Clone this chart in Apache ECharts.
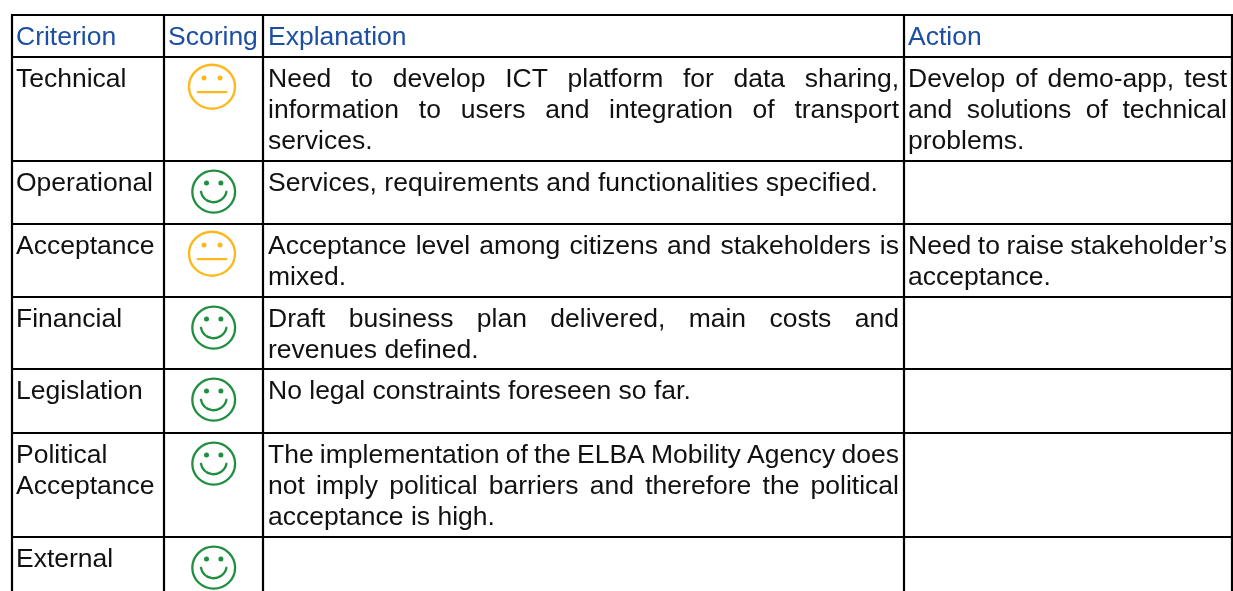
<!DOCTYPE html>
<html lang="en">
<head>
    <meta charset="UTF-8">
    <script src="https://cdn.jsdelivr.net/npm/echarts@6/dist/echarts.min.js"></script>
    <title>Criteria table</title>
    <style>html,body{margin:0;padding:0;background:#fff}#main{width:1233px;height:591px}</style>
</head>
<body>
    <div id="main"></div>
    <script>
// table content
var headers = ['Criterion', 'Scoring', 'Explanation', 'Action'];
var criteria = [['Technical'], ['Operational'], ['Acceptance'], ['Financial'], ['Legislation'], ['Political', 'Acceptance'], ['External']];
var scores = ['neutral', 'happy', 'neutral', 'happy', 'happy', 'happy', 'happy'];
var explanations = [
  ['Need to develop ICT platform for data sharing,', 'information to users and integration of transport', 'services.'],
  ['Services, requirements and functionalities specified.'],
  ['Acceptance level among citizens and stakeholders is', 'mixed.'],
  ['Draft business plan delivered, main costs and', 'revenues defined.'],
  ['No legal constraints foreseen so far.'],
  ['The implementation of the ELBA Mobility Agency does', 'not imply political barriers and therefore the political', 'acceptance is high.'],
  []
];
var actions = [
  ['Develop of demo-app, test', 'and solutions of technical', 'problems.'],
  [],
  ['Need to raise stakeholder\u2019s', 'acceptance.'],
  [], [], [], []
];

// layout of the table, in page pixels
var colEdges = [12, 164, 263, 904, 1232];
var rowEdges = [15, 57, 161, 224, 297, 369, 433, 537];
var tableBottom = 591;
var textLeft = [16, 168, 268, 908];
var textRight = [160, 260, 899, 1227];
var firstBaseline = 30, lineStep = 30.7;
var fontSize = 26.5;
var font = fontSize + 'px "Liberation Sans", Arial, sans-serif';
var baselineShift = 7.2; // vertical middle of the text sits this far above the baseline

var ctx = document.createElement('canvas').getContext('2d');
ctx.font = font;
function width(s) { return ctx.measureText(s).width; }

// one entry per line of text; a wrapped line that is not the last of its cell is justified
var runs = [];
function addCell(lines, col, top, color) {
  lines.forEach(function (line, i) {
    runs.push({
      text: line, color: color, x: textLeft[col], y: top + firstBaseline + i * lineStep,
      justify: col >= 2 && i < lines.length - 1 ? textRight[col] : null
    });
  });
}
headers.forEach(function (h, c) { addCell([h], c, rowEdges[0] - 0.5, '#1c4ea3'); });
criteria.forEach(function (lines, r) {
  addCell(lines, 0, rowEdges[r + 1], '#111');
  addCell(explanations[r], 2, rowEdges[r + 1], '#111');
  addCell(actions[r], 3, rowEdges[r + 1], '#111');
});

var lines = [];
colEdges.forEach(function (x) { lines.push([x, rowEdges[0], x, tableBottom]); });
rowEdges.forEach(function (y) { lines.push([colEdges[0] - 1, y, colEdges[4] + 1, y]); });

var faces = scores.map(function (s, r) {
  return s === 'neutral' ? [212, rowEdges[r + 1] + 29.7] : [213.7, rowEdges[r + 1] + 30.7];
});

function renderLine(params, api) {
  var a = api.coord([api.value(0), api.value(1)]);
  var b = api.coord([api.value(2), api.value(3)]);
  return { type: 'line', shape: { x1: a[0], y1: a[1], x2: b[0], y2: b[1] }, style: { stroke: '#000', lineWidth: 2.2 } };
}

function renderText(params, api) {
  var run = runs[params.dataIndex];
  var p = api.coord([api.value(0), api.value(1)]);
  var style = { fill: run.color, font: font, verticalAlign: 'middle', align: 'left' };
  var words = run.justify ? run.text.split(' ') : [run.text];
  var gap = 0;
  if (run.justify) {
    var used = words.reduce(function (t, w) { return t + width(w); }, 0);
    gap = (run.justify - run.x - used) / (words.length - 1);
  }
  var x = p[0];
  var children = words.map(function (w) {
    var el = { type: 'text', x: x, y: p[1] - baselineShift, style: Object.assign({ text: w }, style) };
    x += width(w) + gap;
    return el;
  });
  return { type: 'group', children: children };
}

function renderFace(params, api) {
  var c = api.coord([api.value(0), api.value(1)]);
  var neutral = scores[params.dataIndex] === 'neutral';
  var color = neutral ? '#ffb81c' : '#1f8f3f';
  var line = { stroke: color, fill: null, lineWidth: neutral ? 2.4 : 2.3, lineCap: 'round' };
  var dot = { fill: color };
  var kids = [
    { type: 'ellipse', shape: { cx: c[0], cy: c[1], rx: neutral ? 23 : 21.4, ry: neutral ? 22 : 21 }, style: line },
    { type: 'circle', shape: { cx: c[0] - (neutral ? 8 : 7.2), cy: c[1] - 8.6, r: 2.5 }, style: dot },
    { type: 'circle', shape: { cx: c[0] + (neutral ? 8 : 7.2), cy: c[1] - 8.6, r: 2.5 }, style: dot }
  ];
  if (neutral) {
    kids.push({ type: 'line', shape: { x1: c[0] - 14.2, y1: c[1] + 5.4, x2: c[0] + 14.2, y2: c[1] + 5.4 }, style: line });
  } else {
    kids.push({ type: 'arc', shape: { cx: c[0], cy: c[1] - 2.5, r: 13, startAngle: 0.2, endAngle: Math.PI - 0.2, clockwise: true }, style: line });
  }
  return { type: 'group', children: kids };
}

var myCharts = echarts.init(document.getElementById('main'), null, { renderer: 'canvas' });
var option = {
  animation: false,
  backgroundColor: '#fff',
  grid: { left: 0, right: 0, top: 0, bottom: 0 },
  xAxis: { type: 'value', min: 0, max: 1233, show: false },
  yAxis: { type: 'value', min: 0, max: 591, inverse: true, show: false },
  series: [
    { type: 'custom', name: 'rules', silent: true, clip: false, renderItem: renderLine, data: lines },
    { type: 'custom', name: 'text', silent: true, clip: false, renderItem: renderText, data: runs.map(function (r) { return [r.x, r.y]; }) },
    { type: 'custom', name: 'scoring', silent: true, clip: false, renderItem: renderFace, data: faces }
  ]
};
myCharts.setOption(option);
    </script>
</body>
</html>
